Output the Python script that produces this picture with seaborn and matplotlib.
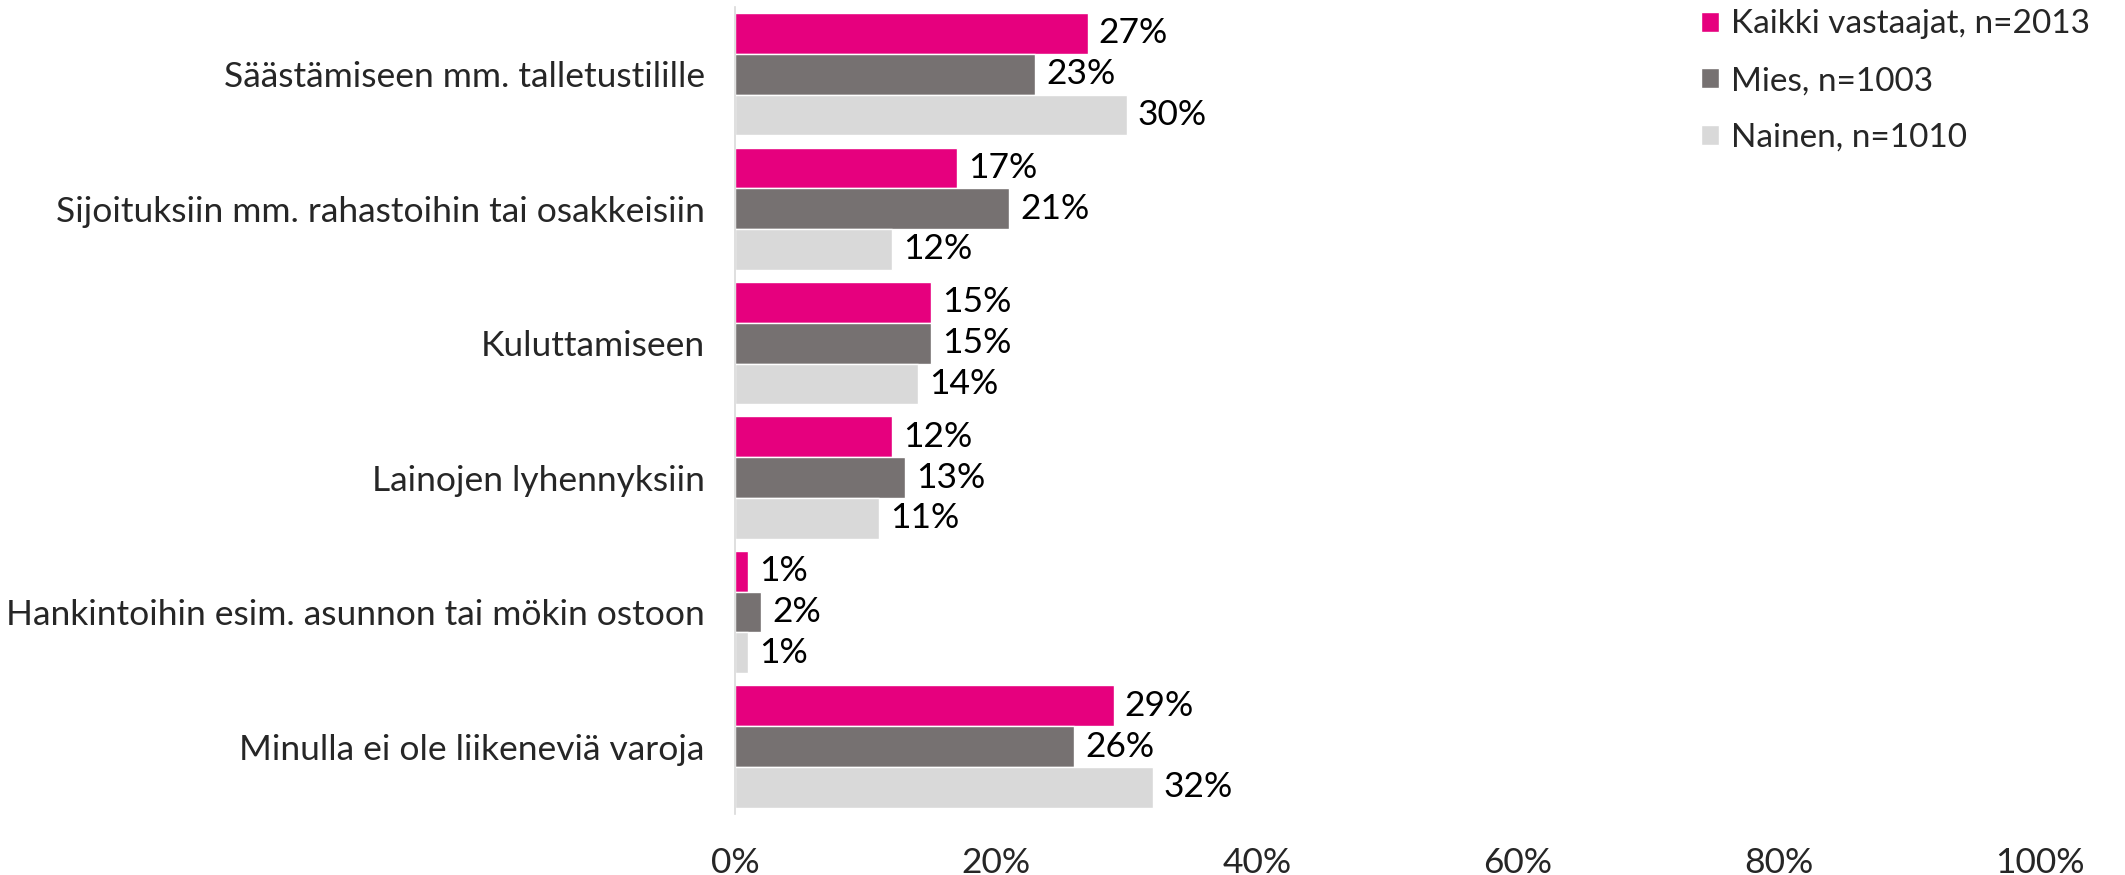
import pandas as pd
import matplotlib.pyplot as plt
import seaborn as sns

categories = [
    "Säästämiseen mm. talletustilille",
    "Sijoituksiin mm. rahastoihin tai osakkeisiin",
    "Kuluttamiseen",
    "Lainojen lyhennyksiin",
    "Hankintoihin esim. asunnon tai mökin ostoon",
    "Minulla ei ole liikeneviä varoja",
]
groups = ["Kaikki vastaajat, n=2013", "Mies, n=1003", "Nainen, n=1010"]
kaikki = [27, 17, 15, 12, 1, 29]
mies = [23, 21, 15, 13, 2, 26]
nainen = [30, 12, 14, 11, 1, 32]
colors = ["#E6007E", "#767171", "#D9D9D9"]

rows = []
for g, vals in zip(groups, [kaikki, mies, nainen]):
    for c, v in zip(categories, vals):
        rows.append({"Kategoria": c, "Ryhmä": g, "Osuus": v})
df = pd.DataFrame(rows)

sns.set_style("white")
plt.rcParams["font.family"] = ["Lato", "DejaVu Sans"]
fs = 25.5

fig = plt.figure(figsize=(21.25, 8.75), dpi=100)
ax = fig.add_axes([0.346, 0.070, 0.614, 0.922])
sns.barplot(
    data=df,
    y="Kategoria",
    x="Osuus",
    hue="Ryhmä",
    hue_order=groups,
    order=categories,
    palette=colors,
    orient="h",
    width=0.91,
    saturation=1,
    ax=ax,
)

for container in ax.containers:
    ax.bar_label(
        container,
        labels=[f"{int(round(v))}%" for v in container.datavalues],
        padding=8,
        fontsize=fs,
        color="black",
    )

ax.set_xlim(0, 100)
ax.set_xticks([0, 20, 40, 60, 80, 100])
ax.set_xticklabels([f"{t}%" for t in [0, 20, 40, 60, 80, 100]], fontsize=fs)
ax.tick_params(axis="x", length=0, pad=24)
ax.tick_params(axis="y", length=0, pad=22, labelsize=fs)
ax.set_xlabel("")
ax.set_ylabel("")
for s in ["top", "right", "bottom"]:
    ax.spines[s].set_visible(False)
ax.spines["left"].set_color("#D9D9D9")
ax.spines["left"].set_linewidth(1.2)

ax.legend(
    loc="upper left",
    bbox_to_anchor=(0.74, 0.997),
    frameon=False,
    fontsize=24,
    handlelength=0.55,
    handleheight=0.55,
    handletextpad=0.35,
    labelspacing=0.8,
    borderaxespad=0,
    borderpad=0,
)

fig.savefig("out.png", dpi=100)
plt.close(fig)
